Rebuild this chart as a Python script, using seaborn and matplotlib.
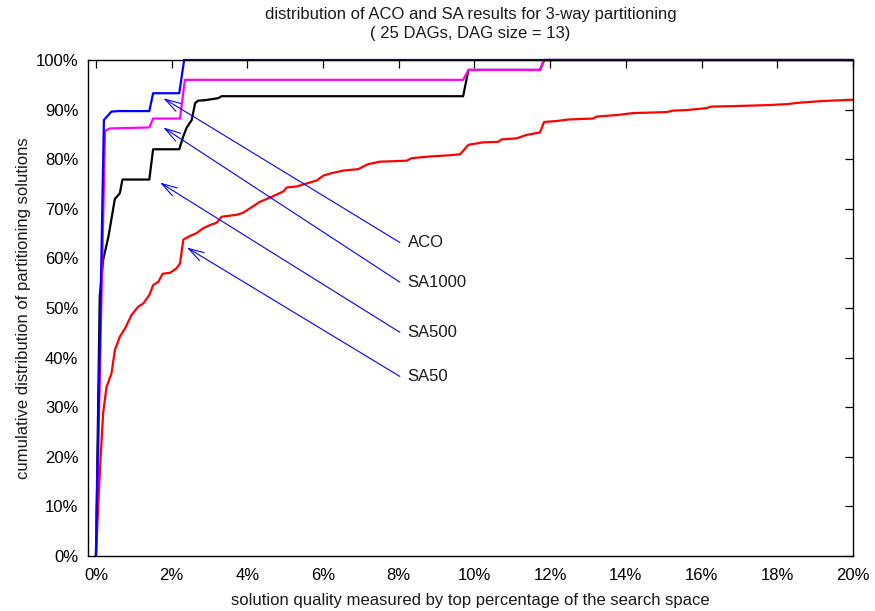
import matplotlib
matplotlib.use("Agg")
import matplotlib.pyplot as plt
import seaborn as sns
import pandas as pd

# Cumulative share of solutions (percent) versus top percentage of search space
aco_x = [0, 0.21, 0.41, 0.59, 1.41, 1.51, 2.20, 2.33, 20]
aco_y = [0, 87.9, 89.6, 89.7, 89.7, 93.3, 93.3, 100, 100]

sa1000_x = [0, 0.24, 0.37, 1.41, 1.51, 2.22, 2.35, 9.70, 9.84, 11.73, 11.84, 20]
sa1000_y = [0, 85.7, 86.2, 86.4, 88.2, 88.2, 96.0, 96.0, 98.0, 98.0, 100, 100]

sa500_x = [0, 0.10, 0.19, 0.33, 0.50, 0.63, 0.70, 1.41, 1.51, 2.20, 2.32, 2.40,
           2.53, 2.62, 2.70, 2.88, 3.23, 3.32, 9.70, 9.84, 11.73, 11.84, 20]
sa500_y = [0, 52.3, 59.7, 64.4, 72.0, 73.1, 75.9, 75.9, 82.0, 82.0, 84.9, 86.4,
           87.9, 91.3, 91.8, 91.9, 92.3, 92.7, 92.7, 98.0, 98.0, 100, 100]

sa50_x = [0, 0.06, 0.12, 0.19, 0.28, 0.41, 0.50, 0.63, 0.77, 0.94, 1.12, 1.25,
          1.41, 1.51, 1.65, 1.76, 1.96, 2.13, 2.22, 2.31, 2.48, 2.66, 2.84, 3.01,
          3.19, 3.32, 3.72, 3.89, 4.07, 4.33, 4.64, 4.95, 5.04, 5.30, 5.83, 6.01,
          6.23, 6.54, 6.93, 7.19, 7.50, 8.21, 8.34, 8.74, 9.35, 9.62, 9.84, 10.23,
          10.63, 10.72, 11.11, 11.38, 11.73, 11.84, 12.17, 12.48, 13.14, 13.23,
          13.76, 14.19, 15.08, 15.25, 15.61, 16.13, 16.26, 16.84, 17.72, 18.25,
          18.60, 19.13, 20.0]
sa50_y = [0, 10.0, 19.4, 28.8, 34.1, 36.8, 41.5, 44.2, 45.9, 48.6, 50.3, 50.9,
          52.6, 54.6, 55.3, 56.9, 57.1, 58.0, 59.0, 63.8, 64.5, 65.1, 66.1, 66.7,
          67.2, 68.4, 68.8, 69.2, 70.1, 71.4, 72.4, 73.5, 74.3, 74.5, 75.7, 76.7,
          77.2, 77.7, 78.0, 79.0, 79.5, 79.7, 80.2, 80.5, 80.8, 81.0, 82.9, 83.4,
          83.5, 84.0, 84.2, 84.9, 85.4, 87.5, 87.7, 88.0, 88.2, 88.6, 88.9, 89.3,
          89.5, 89.8, 89.9, 90.3, 90.6, 90.7, 90.9, 91.1, 91.4, 91.7, 92.0]

series_names = ["SA50", "SA500", "SA1000", "ACO"]
series_colors = ["#ff0000", "#000000", "#ff00ff", "#0000ff"]
series_data = [(sa50_x, sa50_y), (sa500_x, sa500_y),
               (sa1000_x, sa1000_y), (aco_x, aco_y)]

# Label text, arrow tip on the curve, and where the arrow starts
label_names = ["ACO", "SA1000", "SA500", "SA50"]
label_tips = [(1.78, 92.3), (1.78, 86.4), (1.69, 75.3), (2.40, 62.2)]
label_tails = [(8.03, 63.2), (8.03, 55.2), (8.03, 45.1), (8.03, 36.2)]

xticks = list(range(0, 21, 2))
yticks = list(range(0, 101, 10))

frames = []
for name, (xs, ys) in zip(series_names, series_data):
    frames.append(pd.DataFrame({"quality": xs, "share": ys, "algo": name}))
df = pd.concat(frames, ignore_index=True)

sns.set_style("white")
plt.rcParams["font.family"] = ["Liberation Sans", "DejaVu Sans"]
FS = 12

fig = plt.figure(figsize=(8.75, 6.11), dpi=100)
ax = fig.add_axes([88 / 875, 55 / 611, 765 / 875, 496 / 611])

for name, color in zip(series_names, series_colors):
    sub = df[df["algo"] == name]
    sns.lineplot(data=sub, x="quality", y="share", ax=ax, color=color,
                 linewidth=1.6, sort=False, estimator=None, legend=False)
for line in ax.get_lines():
    line.set_clip_on(False)

for name, tip, tail in zip(label_names, label_tips, label_tails):
    ax.annotate("", xy=tip, xytext=tail,
                arrowprops=dict(arrowstyle="->,head_length=0.75,head_width=0.22",
                                color="#0000ff", lw=0.8, shrinkA=0, shrinkB=0,
                                mutation_scale=15))
    ax.text(tail[0] + 0.2, tail[1], name, ha="left", va="center",
            fontsize=FS, color="#1a1a1a")

ax.set_xlim(-0.21, 20)
ax.set_ylim(0, 100)
ax.set_xticks(xticks)
ax.set_xticklabels([f"{v}%" for v in xticks])
ax.set_yticks(yticks)
ax.set_yticklabels([f"{v}%" for v in yticks])
ax.tick_params(direction="in", length=6, width=0.9, top=True, right=True,
               labelsize=FS, pad=7, colors="#000000")
ax.tick_params(axis="x", pad=9)

for side in ax.spines.values():
    side.set_color("#000000")
    side.set_linewidth(1.0)

ax.set_xlabel("solution quality measured by top percentage of the search space",
              fontsize=FS, labelpad=7, color="#1a1a1a")
ax.set_ylabel("cumulative distribution of partitioning solutions",
              fontsize=FS, labelpad=3, color="#1a1a1a")
ax.set_title("distribution of ACO and SA results for 3-way partitioning\n"
             "( 25 DAGs, DAG size = 13)", fontsize=FS, pad=16,
             linespacing=1.3, color="#1a1a1a")

fig.savefig("out.png", dpi=100)
